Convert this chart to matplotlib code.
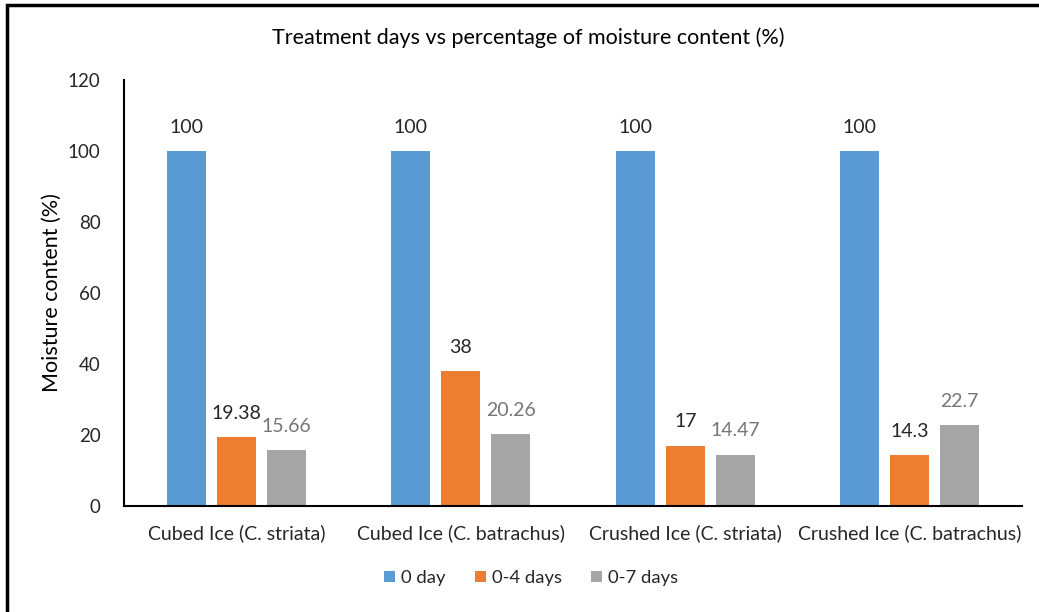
import matplotlib
matplotlib.use("Agg")
import matplotlib.pyplot as plt
import numpy as np
from matplotlib.patches import Rectangle

categories = ["Cubed Ice (C. striata)", "Cubed Ice (C. batrachus)",
              "Crushed Ice (C. striata)", "Crushed Ice (C. batrachus)"]
series_names = ["0 day", "0-4 days", "0-7 days"]
day0 = [100, 100, 100, 100]
days0_4 = [19.38, 38, 17, 14.3]
days0_7 = [15.66, 20.26, 14.47, 22.7]
labels0 = ["100", "100", "100", "100"]
labels4 = ["19.38", "38", "17", "14.3"]
labels7 = ["15.66", "20.26", "14.47", "22.7"]
yticks = [0, 20, 40, 60, 80, 100, 120]

colors = ["#5B9BD5", "#ED7D31", "#A5A5A5"]
label_colors = ["#262626", "#262626", "#767676"]

plt.rcParams['font.family'] = ['Lato', 'DejaVu Sans']

W, H = 1039, 612
fig = plt.figure(figsize=(W / 100, H / 100), dpi=100)
ax = fig.add_axes([124 / W, 1 - 506 / H, (1022 - 124) / W, (506 - 80) / H])

x = np.arange(len(categories))
bw = 0.174
off = 0.223
data = [day0, days0_4, days0_7]
labs = [labels0, labels4, labels7]
for i, (vals, lab) in enumerate(zip(data, labs)):
    pos = x + (i - 1) * off
    ax.bar(pos, vals, width=bw, color=colors[i], label=series_names[i], zorder=2)
    for p, v, t in zip(pos, vals, lab):
        ax.text(p, v + 4.3, t, ha="center", va="bottom", fontsize=14,
                color=label_colors[i])

ax.set_xlim(-0.5, len(categories) - 0.5)
ax.set_ylim(0, 120)
ax.set_yticks(yticks)
ax.set_xticks(x)
ax.set_xticklabels(categories, fontsize=14, color="#262626")
ax.tick_params(axis="y", labelsize=13.5, labelcolor="#262626", length=0, pad=17)
ax.tick_params(axis="x", length=0, pad=13)
for s in ["top", "right"]:
    ax.spines[s].set_visible(False)
ax.spines["left"].set_linewidth(1.5)
ax.spines["bottom"].set_linewidth(1.5)
ax.spines["left"].set_color("black")
ax.spines["bottom"].set_color("black")

ax.set_ylabel("Moisture content (%)", fontsize=15.5, color="black")
ax.yaxis.set_label_coords(-62 / 898, 0.5)

fig.text(528 / W, 1 - 38 / H, "Treatment days vs percentage of moisture content (%)",
         ha="center", va="center", fontsize=15.5, color="black")

leg = fig.legend(loc="center", bbox_to_anchor=(531 / W, 1 - 578 / H), ncol=3,
                 frameon=False, fontsize=13.3, handlelength=0.6, handleheight=0.6,
                 handletextpad=0.3, columnspacing=1.6)
for t in leg.get_texts():
    t.set_color("#262626")

border = Rectangle((7 / W, -0.5), 2.0, 1 - 5 / H + 0.5, transform=fig.transFigure,
                   fill=False, edgecolor="black", linewidth=2.5, clip_on=False)
fig.patches.append(border)

fig.savefig("out.png", dpi=100)
